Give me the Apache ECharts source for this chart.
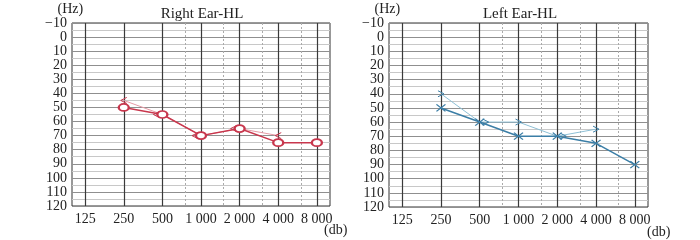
<!DOCTYPE html>
<html><head><meta charset="utf-8">
<script src="https://cdn.jsdelivr.net/npm/echarts@6/dist/echarts.min.js"></script>
<style>html,body{margin:0;padding:0;background:#fff}#c{width:700px;height:240px}</style>
</head><body><div id="c"></div>
<script>
const freqs = [125, 250, 500, 1000, 2000, 4000, 8000];
const freqLabels = ['125', '250', '500', '1 000', '2 000', '4 000', '8 000'];
const minorFreqs = [750, 1500, 3000, 6000];
const yTickLabels = ['−10','0','10','20','30','40','50','60','70','80','90','100','110','120'];

const airFreqs = [250, 500, 1000, 2000, 4000, 8000];
const boneFreqs = [250, 500, 1000, 2000, 4000];
const rightAir = [50, 55, 70, 65, 75, 75];
const rightBone = [45, 55, 70, 65, 70];
const leftAir = [50, 60, 70, 70, 75, 90];
const leftBone = [40, 60, 60, 70, 65];

const titles = ['Right Ear-HL', 'Left Ear-HL'];
const xUnit = '(db)';

const oct = f => Math.log2(f / 125);
const FONT = "'Liberation Serif','Times New Roman',serif";
const RED = '#c8374d', PINK = '#e69aa6', BLUE = '#3b7ea6', LBLUE = '#8ec0d6';

const grids = [
  {left: 72, right: 370, top: 23, bottom: 34, show: true, borderColor: '#333', borderWidth: 1},
  {left: 389, right: 52, top: 23, bottom: 33, show: true, borderColor: '#333', borderWidth: 1}
];

function xAxes(gi) {
  return [
    {
      type: 'value', gridIndex: gi, min: -0.34, max: 6.34,
      axisLine: {show: false},
      axisTick: {show: false, customValues: freqs.map(oct)},
      axisLabel: {customValues: freqs.map(oct), margin: 6, color: '#222', fontFamily: FONT, fontSize: 14,
        formatter: v => freqLabels[Math.round(v)]},
      splitLine: {show: true, lineStyle: {color: '#3a3a3a', width: 1.2}}
    },
    {
      type: 'value', gridIndex: gi, min: -0.34, max: 6.34, position: 'top',
      axisLine: {show: false},
      axisTick: {show: false, customValues: minorFreqs.map(oct)},
      axisLabel: {show: false, customValues: minorFreqs.map(oct)},
      splitLine: {show: true, lineStyle: {color: '#aaa', width: 1, type: [2, 2]}}
    }
  ];
}

function yAxis(gi) {
  return {
    type: 'value', gridIndex: gi, inverse: true, min: -10, max: 120, interval: 10,
    axisLine: {show: false}, axisTick: {show: false},
    axisLabel: {margin: 5, color: '#222', fontFamily: FONT, fontSize: 14,
      formatter: v => yTickLabels[Math.round((v + 10) / 10)]},
    splitLine: {show: true, lineStyle: {color: '#8f8f8f', width: 1}},
    minorTick: {show: false, splitNumber: 2},
    minorSplitLine: {show: true, lineStyle: {color: '#c8c8c8', width: 1}},
    name: '(Hz)', nameLocation: 'start', nameGap: 6,
    nameTextStyle: {fontFamily: FONT, fontSize: 14, color: '#222', align: 'right', padding: [0, 2, 0, 0]}
  };
}

const LT = 'path://M10,0L0,5L10,10';
const GT = 'path://M0,0L10,5L0,10';
const XS = 'path://M0,0L10,10M10,0L0,10';

function boneData(bf, bv, af, av, dx) {
  return bf.map((f, i) => {
    const j = af.indexOf(f);
    const overlap = j >= 0 && av[j] === bv[i];
    return {value: [oct(f), bv[i]], symbolOffset: overlap ? [dx, 0] : [0, 0]};
  });
}

const titleStyle = {fontFamily: FONT, fontSize: 15, fontWeight: 'normal', color: '#222'};

const option = {
  animation: false,
  title: [
    {text: titles[0], left: 197, top: 2, textAlign: 'center', textStyle: titleStyle},
    {text: titles[1], left: 515, top: 2, textAlign: 'center', textStyle: titleStyle}
  ],
  graphic: [
    {type: 'text', left: 324, top: 223, style: {text: xUnit, font: '14px ' + FONT, fill: '#222'}},
    {type: 'text', left: 647, top: 225, style: {text: xUnit, font: '14px ' + FONT, fill: '#222'}}
  ],
  grid: grids,
  xAxis: [...xAxes(0), ...xAxes(1)],
  yAxis: [yAxis(0), yAxis(1)],
  series: [
    {
      type: 'line', xAxisIndex: 0, yAxisIndex: 0, z: 3,
      data: boneData(boneFreqs, rightBone, airFreqs, rightAir, -6),
      symbol: LT, symbolSize: [6, 6],
      lineStyle: {color: PINK, width: 1},
      itemStyle: {color: 'rgba(0,0,0,0)', borderColor: RED, borderWidth: 1}
    },
    {
      type: 'line', xAxisIndex: 0, yAxisIndex: 0, z: 4,
      data: airFreqs.map((f, i) => [oct(f), rightAir[i]]),
      symbol: 'emptyCircle', symbolSize: [10, 7],
      lineStyle: {color: RED, width: 1.5},
      itemStyle: {color: RED, borderColor: RED, borderWidth: 1.2}
    },
    {
      type: 'line', xAxisIndex: 2, yAxisIndex: 1, z: 3,
      data: boneData(boneFreqs, leftBone, airFreqs, leftAir, 6),
      symbol: GT, symbolSize: [6, 6],
      lineStyle: {color: LBLUE, width: 1},
      itemStyle: {color: 'rgba(0,0,0,0)', borderColor: BLUE, borderWidth: 1}
    },
    {
      type: 'line', xAxisIndex: 2, yAxisIndex: 1, z: 4,
      data: airFreqs.map((f, i) => [oct(f), leftAir[i]]),
      symbol: XS, symbolSize: [9, 7],
      lineStyle: {color: BLUE, width: 1.5},
      itemStyle: {color: 'rgba(0,0,0,0)', borderColor: BLUE, borderWidth: 1.2}
    }
  ]
};

const chart = echarts.init(document.getElementById('c'), null, {renderer: 'canvas'});
chart.setOption(option);
</script></body></html>
